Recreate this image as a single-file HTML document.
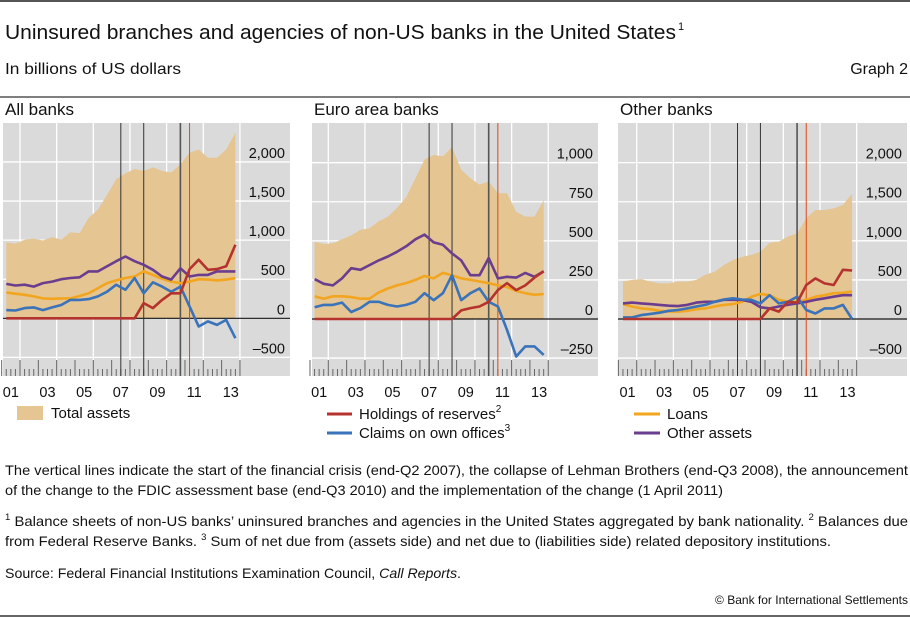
<!DOCTYPE html>
<html><head><meta charset="utf-8"><style>
html,body{margin:0;padding:0;background:#fff;}
svg{display:block;font-family:"Liberation Sans",sans-serif;}
</style></head><body>
<svg id="chart" width="910" height="617" viewBox="0 0 910 617" xmlns="http://www.w3.org/2000/svg">
<line x1="0" y1="1" x2="910" y2="1" stroke="#555" stroke-width="2"/>
<text x="5" y="39" font-size="20" fill="#111" textLength="671" lengthAdjust="spacingAndGlyphs">Uninsured branches and agencies of non-US banks in the United States</text>
<text x="678" y="30" font-size="11" fill="#111">1</text>
<text x="5" y="74" font-size="16" fill="#111" textLength="176" lengthAdjust="spacingAndGlyphs">In billions of US dollars</text>
<text x="908" y="74" font-size="16" fill="#111" text-anchor="end">Graph 2</text>
<line x1="0" y1="97" x2="910" y2="97" stroke="#555" stroke-width="1.5"/>
<g id="panels"></g>
<g id="legend">
<rect x="17" y="406" width="26" height="14" fill="#e5c592"/>
<text x="51" y="418" font-size="15" fill="#111">Total assets</text>
<line x1="327" y1="414" x2="352" y2="414" stroke="#b5332e" stroke-width="3"/>
<text x="359" y="419" font-size="15" fill="#111">Holdings of reserves<tspan font-size="10" dy="-7">2</tspan></text>
<line x1="327" y1="433" x2="352" y2="433" stroke="#3a73b9" stroke-width="3"/>
<text x="359" y="438" font-size="15" fill="#111">Claims on own offices<tspan font-size="10" dy="-7">3</tspan></text>
<line x1="634" y1="414" x2="660" y2="414" stroke="#f2a51f" stroke-width="3"/>
<text x="667" y="419" font-size="15" fill="#111">Loans</text>
<line x1="634" y1="433" x2="660" y2="433" stroke="#6b3d8e" stroke-width="3"/>
<text x="667" y="438" font-size="15" fill="#111">Other assets</text>
</g>
<g font-size="14" fill="#111">
<text x="5" y="475" textLength="903" lengthAdjust="spacingAndGlyphs">The vertical lines indicate the start of the financial crisis (end-Q2 2007), the collapse of Lehman Brothers (end-Q3 2008), the announcement</text>
<text x="5" y="495" textLength="718" lengthAdjust="spacingAndGlyphs">of the change to the FDIC assessment base (end-Q3 2010) and the implementation of the change (1 April 2011)</text>
<text x="5" y="526" textLength="903" lengthAdjust="spacingAndGlyphs"><tspan font-size="9" dy="-6">1</tspan><tspan dy="6">  Balance sheets of non-US banks’ uninsured branches and agencies in the United States aggregated by bank nationality.    </tspan><tspan font-size="9" dy="-6">2</tspan><tspan dy="6">  Balances due</tspan></text>
<text x="5" y="546" textLength="826" lengthAdjust="spacingAndGlyphs">from Federal Reserve Banks.    <tspan font-size="9" dy="-6">3</tspan><tspan dy="6">  Sum of net due from (assets side) and net due to (liabilities side) related depository institutions.</tspan></text>
<text x="5" y="578" textLength="456" lengthAdjust="spacingAndGlyphs">Source: Federal Financial Institutions Examination Council, <tspan font-style="italic">Call Reports</tspan>.</text>
<text x="908" y="604" font-size="12" text-anchor="end">© Bank for International Settlements</text>
</g>
<line x1="0" y1="616" x2="910" y2="616" stroke="#333" stroke-width="1.5"/>
</svg>
<script>
// shared categories (half-yearly observation dates)
const dates = [2001.25,2001.75,2002.25,2002.75,2003.25,2003.75,2004.25,2004.75,2005.25,2005.75,2006.25,2006.75,2007.25,2007.75,2008.25,2008.75,2009.25,2009.75,2010.25,2010.75,2011.25,2011.75,2012.25,2012.75,2013.25,2013.75];
const eventDates = [2007.5, 2008.75, 2010.75, 2011.25];
const yearLabels = ["01","03","05","07","09","11","13"];
const yearLabelYears = [2001,2003,2005,2007,2009,2011,2013];

// All banks
const allTotal = [970,955,1005,1020,995,1040,1005,1100,1090,1285,1390,1580,1780,1855,1910,1885,1930,1885,1865,1970,2120,2160,2055,2055,2160,2375];
const allOther = [440,420,430,405,450,470,500,515,525,600,600,665,730,790,730,685,620,535,495,640,535,555,555,600,600,600];
const allLoans = [330,315,300,280,255,250,255,255,285,320,385,450,485,515,535,600,555,505,470,450,470,500,495,485,495,515];
const allClaims = [105,100,130,140,105,140,170,235,235,245,280,340,430,365,515,320,460,405,340,405,150,-105,-40,-85,-20,-255];
const allReserves = [0,0,0,0,0,0,0,0,0,0,0,0,0,0,0,195,130,235,320,320,630,750,620,630,665,940];
const allTicks = [-500,0,500,1000,1500,2000];
const allTickLabels = ["–500","0","500","1,000","1,500","2,000"];

// Euro area banks
const euroTotal = [495,480,485,510,535,570,580,625,655,710,780,900,1020,1050,1040,1100,955,900,860,880,805,805,685,655,655,760];
const euroOther = [255,225,215,260,325,315,345,375,400,430,465,510,540,490,475,420,375,280,280,390,260,270,265,295,270,305];
const euroLoans = [145,130,145,145,140,130,130,170,195,215,230,250,275,260,295,280,260,250,240,230,215,205,180,165,155,160];
const euroClaims = [75,90,90,105,45,70,110,110,90,80,90,110,165,120,165,280,120,165,195,110,80,-70,-240,-175,-175,-230];
const euroReserves = [0,0,0,0,0,0,0,0,0,0,0,0,0,0,0,0,55,70,80,110,185,230,185,215,265,305];
const euroTicks = [-250,0,250,500,750,1000];
const euroTickLabels = ["–250","0","250","500","750","1,000"];

// Other banks
const otherTotal = [480,500,510,480,455,455,480,480,500,565,605,690,755,795,820,860,975,990,1055,1095,1290,1395,1395,1415,1460,1600];
const otherOther = [200,210,200,190,180,170,165,180,210,220,220,245,245,245,220,150,135,160,180,200,220,245,265,285,305,305];
const otherLoans = [190,160,135,125,105,95,95,105,125,135,160,180,190,220,285,320,305,245,220,220,245,285,305,330,335,350];
const otherClaims = [20,20,50,65,80,105,115,135,160,180,220,250,265,250,245,200,305,200,220,285,115,70,135,135,180,0];
const otherReserves = [0,0,0,0,0,0,0,0,0,0,0,0,0,0,0,0,135,95,220,210,435,520,455,435,630,620];
const otherTicks = [-500,0,500,1000,1500,2000];
const otherTickLabels = ["–500","0","500","1,000","1,500","2,000"];

const NS = "http://www.w3.org/2000/svg";
function mk(tag, attrs, parent){
  const e = document.createElementNS(NS, tag);
  for (const k in attrs) e.setAttribute(k, attrs[k]);
  parent.appendChild(e);
  return e;
}
const root = document.getElementById('panels');

function drawPanel(cfg){
  const g = mk('g', {}, root);
  
  
  const X = t => cfg.x2002 + (t - 2002) * 18.33;
  const Y = v => cfg.zeroY - v * cfg.ppu;
  const top = 123, bottom = 376;
  const gridBottom = Y(cfg.ticks[0]);
  const title = mk('text', {x: cfg.left + 2, y: 115, 'font-size': 17, fill: '#111'}, g);
  title.textContent = cfg.title;
  
  
  const bg = mk('rect', {x: cfg.left, y: top, width: cfg.right - cfg.left, height: bottom - top, fill: '#dadada'}, g);
  
  
  // vertical gridlines every two years
  for (let yr = 2002; yr <= 2014; yr += 2) {
    const vl = mk('line', {x1: X(yr), x2: X(yr), y1: top, y2: gridBottom + 3, stroke: '#fff', 'stroke-width': 1.3}, g);
    
    
  }
  // horizontal gridlines
  cfg.ticks.forEach((v, i) => {
    const hl = mk('line', {x1: cfg.left, x2: cfg.right, y1: Y(v), y2: Y(v), stroke: '#fff', 'stroke-width': 1.3}, g);
    
    
  });
  // total assets area
  let d = 'M' + X(dates[0]) + ',' + Y(0);
  dates.forEach((t, i) => { d += 'L' + X(t).toFixed(1) + ',' + Y(cfg.total[i]).toFixed(1); });
  d += 'L' + X(dates[dates.length - 1]) + ',' + Y(0) + 'Z';
  const area = mk('path', {d: d, fill: '#e5c592'}, g);
  
  
  // zero line
  const zl = mk('line', {x1: cfg.left, x2: cfg.right, y1: Y(0), y2: Y(0), stroke: '#111', 'stroke-width': 1.2}, g);
  
  
  // quarterly ticks
  for (let q = 0; q <= 52; q++) {
    const t = 2001 + q * 0.25;
    const major = q % 4 === 0;
    const tk = mk('line', {x1: X(t), x2: X(t), y1: major ? 360 : 369, y2: bottom, stroke: '#666', 'stroke-width': 1}, g);
    
    
  }
  // event lines
  const evStyles = [['#333', 1], ['#333', 1], ['#555', 1.6], ['#e0471b', 1]];
  eventDates.forEach((t, i) => {
    const el = mk('line', {x1: X(t), x2: X(t), y1: top, y2: bottom, stroke: evStyles[i][0], 'stroke-width': evStyles[i][1]}, g);
    
    
  });
  // y tick labels
  cfg.ticks.forEach((v, i) => {
    const tl = mk('text', {x: cfg.right - 5, y: Y(v) - 4, 'font-size': 14.5, fill: '#111', 'text-anchor': 'end'}, g);
    tl.textContent = cfg.tickLabels[i];
    
    
  });
  // x labels
  yearLabels.forEach((lab, i) => {
    const xl = mk('text', {x: X(yearLabelYears[i] + 0.5), y: 397, 'font-size': 14.5, fill: '#111', 'text-anchor': 'middle'}, g);
    xl.textContent = lab;
    
    
  });
  // series
  const series = [
    [cfg.loans, '#f2a51f', 'loans-line'],
    [cfg.other, '#6b3d8e', 'other-assets-line'],
    [cfg.claims, '#3a73b9', 'claims-line'],
    [cfg.reserves, '#b5332e', 'reserves-line']
  ];
  series.forEach(s => {
    const pts = dates.map((t, i) => X(t).toFixed(1) + ',' + Y(s[0][i]).toFixed(1)).join(' ');
    const pl = mk('polyline', {points: pts, fill: 'none', stroke: s[1], 'stroke-width': 2.6, 'stroke-linejoin': 'round'}, g);
    
    
  });
}

drawPanel({name: 'panel-all-banks', title: 'All banks', left: 3, right: 290, x2002: 20, zeroY: 318.3, ppu: 0.07817,
  total: allTotal, other: allOther, loans: allLoans, claims: allClaims, reserves: allReserves, ticks: allTicks, tickLabels: allTickLabels});
drawPanel({name: 'panel-euro-area-banks', title: 'Euro area banks', left: 312, right: 598, x2002: 328.3, zeroY: 319, ppu: 0.1563,
  total: euroTotal, other: euroOther, loans: euroLoans, claims: euroClaims, reserves: euroReserves, ticks: euroTicks, tickLabels: euroTickLabels});
drawPanel({name: 'panel-other-banks', title: 'Other banks', left: 618, right: 907, x2002: 636.7, zeroY: 319, ppu: 0.07817,
  total: otherTotal, other: otherOther, loans: otherLoans, claims: otherClaims, reserves: otherReserves, ticks: otherTicks, tickLabels: otherTickLabels});
</script>
</body></html>
